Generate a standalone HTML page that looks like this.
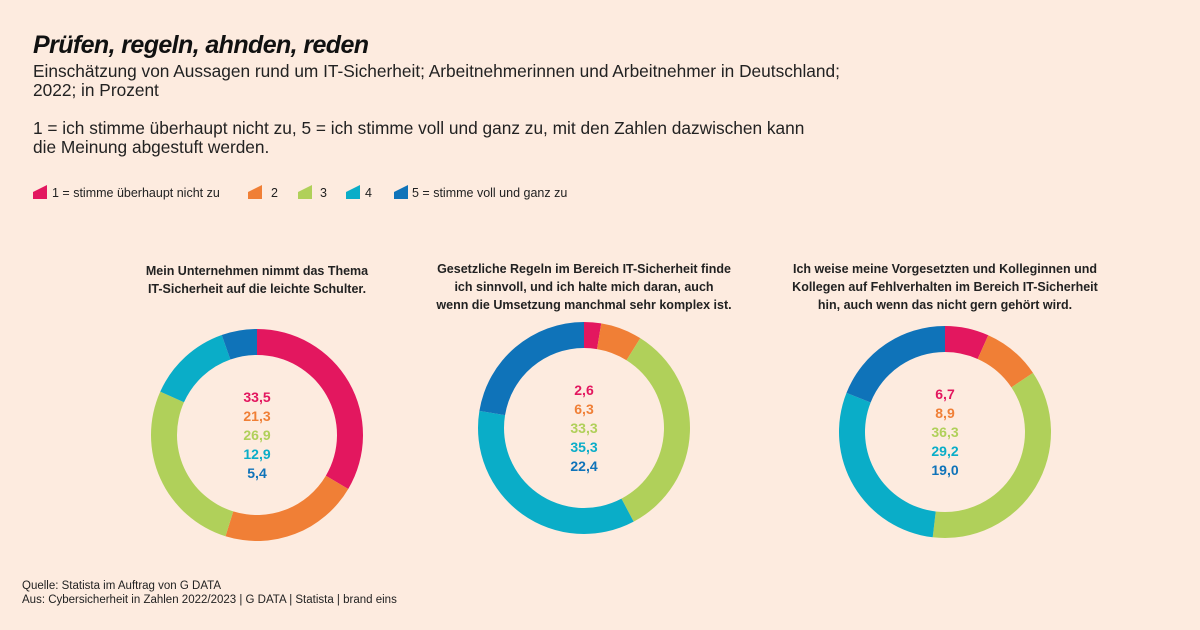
<!DOCTYPE html>
<html><head><meta charset="utf-8"><style>
body{margin:0;width:1200px;height:630px;background:#fdebdf;font-family:"Liberation Sans",sans-serif;color:#222;position:relative;overflow:hidden}
.t{position:absolute;left:33px;top:31px;font-size:25px;font-weight:bold;font-style:italic;color:#111;letter-spacing:-0.6px}
.s{position:absolute;left:33px;font-size:17.3px;line-height:19px;color:#222}
.f{position:absolute;left:22px;font-size:11.5px;color:#222}
.ct{position:absolute;text-align:center;font-size:12.5px;font-weight:bold;line-height:18px;color:#222}
</style></head><body>
<div class="t">Prüfen, regeln, ahnden, reden</div>
<div class="s" style="top:62px">Einschätzung von Aussagen rund um IT-Sicherheit; Arbeitnehmerinnen und Arbeitnehmer in Deutschland;<br>2022; in Prozent</div>
<div class="s" style="top:119px">1 = ich stimme überhaupt nicht zu, 5 = ich stimme voll und ganz zu, mit den Zahlen dazwischen kann<br>die Meinung abgestuft werden.</div>
<svg width="1200" height="630" style="position:absolute;left:0;top:0" font-family="Liberation Sans, sans-serif">
<g font-size="12.5" fill="#222">
<polygon points="33,192 47,185 47,199 33,199" fill="#e3175f"/><text x="52" y="197">1 = stimme überhaupt nicht zu</text>
<polygon points="248,192 262,185 262,199 248,199" fill="#f07f36"/><text x="271" y="197">2</text>
<polygon points="298,192 312,185 312,199 298,199" fill="#b0d05a"/><text x="320" y="197">3</text>
<polygon points="346,192 360,185 360,199 346,199" fill="#0aadc8"/><text x="365" y="197">4</text>
<polygon points="394,192 408,185 408,199 394,199" fill="#0f73b9"/><text x="412" y="197">5 = stimme voll und ganz zu</text>
</g>
<g id="d"></g>
</svg>
<div class="ct" style="left:107px;width:300px;top:262px">Mein Unternehmen nimmt das Thema<br>IT-Sicherheit auf die leichte Schulter.</div>
<div class="ct" style="left:414px;width:340px;top:260px">Gesetzliche Regeln im Bereich IT-Sicherheit finde<br>ich sinnvoll, und ich halte mich daran, auch<br>wenn die Umsetzung manchmal sehr komplex ist.</div>
<div class="ct" style="left:770px;width:350px;top:260px">Ich weise meine Vorgesetzten und Kolleginnen und<br>Kollegen auf Fehlverhalten im Bereich IT-Sicherheit<br>hin, auch wenn das nicht gern gehört wird.</div>
<div class="f" style="top:580px">Quelle: Statista im Auftrag von G DATA</div>
<div class="f" style="top:594px">Aus: Cybersicherheit in Zahlen 2022/2023 | G DATA | Statista | brand eins</div>
<script>
var cols=["#e3175f","#f07f36","#b0d05a","#0aadc8","#0f73b9"];
var charts=[[257,435,[33.5,21.3,26.9,12.9,5.4]],[584,428,[2.6,6.3,33.3,35.3,22.4]],[945,432,[6.7,8.9,36.3,29.2,19.0]]];
var h="";
charts.forEach(function(c){
 var cx=c[0],cy=c[1],v=c[2],s=v.reduce(function(a,b){return a+b},0),acc=0;
 v.forEach(function(x,i){
  var a0=acc/s*2*Math.PI,a1=(acc+x)/s*2*Math.PI;acc+=x;
  var R=106,r=80;
  function p(rr,a){return (cx+rr*Math.sin(a)).toFixed(2)+","+(cy-rr*Math.cos(a)).toFixed(2)}
  var lg=(a1-a0)>Math.PI?1:0;
  h+='<path d="M'+p(R,a0)+' A'+R+','+R+' 0 '+lg+' 1 '+p(R,a1)+' L'+p(r,a1)+' A'+r+','+r+' 0 '+lg+' 0 '+p(r,a0)+' Z" fill="'+cols[i]+'"/>';
  h+='<text x="'+cx+'" y="'+(cy-33+i*19)+'" text-anchor="middle" font-size="14" font-weight="bold" fill="'+cols[i]+'">'+x.toFixed(1).replace(".",",")+'</text>';
 });
});
document.getElementById("d").innerHTML=h;
</script>
</body></html>
